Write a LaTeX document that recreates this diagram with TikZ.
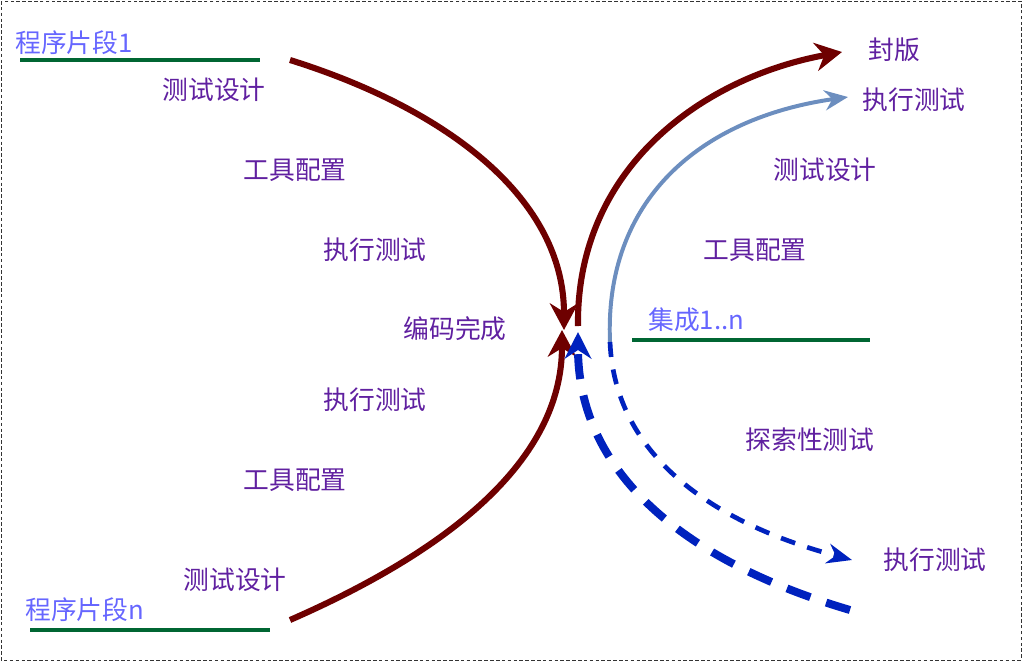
\documentclass[tikz,border=0pt]{standalone}
\usepackage{fontspec}
\usepackage{xcolor}
\usepackage{tikz}
\usetikzlibrary{arrows.meta, positioning}
\newfontfamily\cjk{Noto Sans CJK SC}
\definecolor{mystage}{RGB}{96,32,160}
\definecolor{mypart}{RGB}{102,102,255}
\definecolor{mygreen}{RGB}{0,102,51}
\definecolor{mydred}{RGB}{110,0,0}
\definecolor{mylblue}{RGB}{108,142,191}
\definecolor{mydblue}{RGB}{0,34,190}
\tikzset{
  stage/.style={inner sep=0pt, text=mystage, font=\cjk\fontsize{22}{26}\selectfont},
  part/.style={inner sep=0pt, anchor=west, text=mypart, font=\cjk\fontsize{22}{26}\selectfont},
  baseline/.style={line width=3.6pt, color=mygreen},
  redarrow/.style={-{Stealth[length=0.8cm, width=0.85cm]}, line width=5.2pt, color=mydred},
  bluearrow/.style={-{Stealth[length=0.7cm, width=0.6cm]}, line width=3.4pt, color=mylblue},
  dasharrow/.style={-{Stealth[length=0.75cm, width=0.6cm]}, line width=4pt, color=mydblue,
    dash pattern=on 0.45cm off 0.38cm},
  backarrow/.style={-{Stealth[length=0.8cm, width=0.8cm]}, line width=6.8pt, color=mydblue,
    dash pattern=on 0.75cm off 0.5cm},
  frame/.style={densely dashed, line width=0.6pt, color=black!80}
}
\begin{document}
\begin{tikzpicture}[x=0.03cm, y=-0.03cm]
  \useasboundingbox (0,0) rectangle (1022,661);
  \draw[frame] (1,1) rectangle (1021,660);

  % left side: fragments come together
  \node[part] (frag1) at (15,43) {程序片段1};
  \node[part] (fragn) at (25,610) {程序片段n};
  \coordinate (f1l) at (20,60);  \coordinate (f1r) at (260,60);
  \coordinate (fnl) at (30,630); \coordinate (fnr) at (270,630);
  \draw[baseline] (f1l) -- (f1r);
  \draw[baseline] (fnl) -- (fnr);

  \node[stage] (design1) at (214,90)  {测试设计};
  \node[stage] (tool1)   at (295,170) {工具配置};
  \node[stage] (run1)    at (375,250) {执行测试};
  \node[stage] (done)    at (455,329) {编码完成};
  \node[stage] (run2)    at (375,400) {执行测试};
  \node[stage] (tool2)   at (295,480) {工具配置};
  \node[stage] (design2) at (235,580) {测试设计};

  \coordinate (s1) at (290,60);  \coordinate (m1) at (564,330);
  \coordinate (s2) at (290,620); \coordinate (m2) at (562,330);
  \draw[redarrow] (s1) .. controls (450,110) and (564,200) .. (m1);
  \draw[redarrow] (s2) .. controls (450,550) and (562,460) .. (m2);

  % right side: integration and release
  \node[part] (integ) at (648,320) {集成1..n};
  \coordinate (il) at (632,340); \coordinate (ir) at (870,340);
  \draw[baseline] (il) -- (ir);

  \node[stage] (release) at (894,50)  {封版};
  \node[stage] (run3)    at (914,100) {执行测试};
  \node[stage] (design3) at (825,170) {测试设计};
  \node[stage] (tool3)   at (755,250) {工具配置};
  \node[stage] (explore) at (810,440) {探索性测试};
  \node[stage] (run4)    at (935,560) {执行测试};

  \coordinate (r0) at (578,326); \coordinate (r1) at (842,52);
  \draw[redarrow] (r0) .. controls (576,170) and (700,78) .. (r1);
  \coordinate (b0) at (610,342); \coordinate (b1) at (848,97);
  \draw[bluearrow] (b0) .. controls (604,200) and (700,118) .. (b1);
  \coordinate (d1) at (852,560);
  \draw[dasharrow] (b0) .. controls (615,460) and (720,525) .. (d1);
  \coordinate (e0) at (850,610); \coordinate (e1) at (578,332);
  \draw[backarrow] (e0) .. controls (680,560) and (578,470) .. (e1);
\end{tikzpicture}
\end{document}
